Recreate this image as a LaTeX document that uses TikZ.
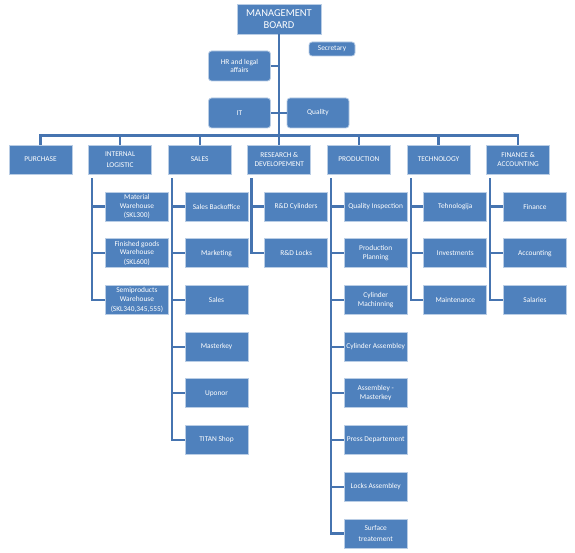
\documentclass[tikz,border=0pt]{standalone}
\usepackage{fontspec}
\setmainfont{Carlito}
\usetikzlibrary{calc}
\definecolor{boxblue}{HTML}{4F81BD}
\definecolor{boxrim}{HTML}{B9CDE5}
\definecolor{linkblue}{HTML}{4674B0}

\begin{document}
\begin{tikzpicture}[
  x=1pt, y=-1pt,
  box/.style={rectangle, draw=boxrim, line width=0.8pt, fill=boxblue, text=white,
    align=center, inner sep=1pt, minimum width=63pt, minimum height=29pt,
    font=\fontsize{7.4}{8.6}\selectfont},
  staff/.style={box, rounded corners=3pt, minimum width=62pt, minimum height=30pt},
  link/.style={draw=linkblue, line width=2.2pt}
]
\useasboundingbox (0,0) rectangle (575,553);

% board and staff
\node[box, minimum width=84pt, minimum height=30pt, font=\fontsize{10.5}{12}\selectfont] (board) at (279,19) {MANAGEMENT\\BOARD};
\node[staff, minimum width=46pt, minimum height=14pt] (secretary) at (332,49) {Secretary};
\node[staff] (hr) at (239.5,66) {HR and legal\\affairs};
\node[staff] (it) at (239.5,113) {IT};
\node[staff] (quality) at (318,113) {Quality};

% departments
\foreach \name/\txt [count=\i from 0] in {purchase/PURCHASE, logistic/INTERNAL\\[2pt]LOGISTIC, sales/SALES, research/RESEARCH \&\\DEVELOPEMENT, production/PRODUCTION, technology/TECHNOLOGY, finance/FINANCE \&\\ACCOUNTING}
  \node[box] (\name) at (40.5+79.6*\i,159.5) {\txt};

% units
\foreach \txt [count=\k from 0] in {Material\\Warehouse\\[1pt](SKL300), Finished goods\\Warehouse\\[1pt](SKL600), {Semiproducts\\Warehouse\\[1pt](SKL340,345,555)}}
  \node[box] (logistic-\k) at ($(logistic.center)+(16.8,47+46.7*\k)$) {\txt};
\foreach \txt [count=\k from 0] in {Sales Backoffice, Marketing, Sales, Masterkey, Uponor, TITAN Shop}
  \node[box] (sales-\k) at ($(sales.center)+(16.8,47+46.7*\k)$) {\txt};
\foreach \txt [count=\k from 0] in {R\&D Cylinders, R\&D Locks}
  \node[box] (research-\k) at ($(research.center)+(16.8,47+46.7*\k)$) {\txt};
\foreach \txt [count=\k from 0] in {Quality Inspection, Production\\Planning, Cylinder\\Machinning, Cylinder Assembley, Assembley -\\Masterkey, Press Departement, Locks Assembley, Surface\\[3pt]treatement}
  \node[box] (production-\k) at ($(production.center)+(16.8,47+46.7*\k)$) {\txt};
\foreach \txt [count=\k from 0] in {Tehnologija, Investments, Maintenance}
  \node[box] (technology-\k) at ($(technology.center)+(16.8,47+46.7*\k)$) {\txt};
\foreach \txt [count=\k from 0] in {Finance, Accounting, Salaries}
  \node[box] (finance-\k) at ($(finance.center)+(16.8,47+46.7*\k)$) {\txt};

% top connectors
\draw[link] (board.south) -- ([yshift=9pt]board.south |- purchase.north);
\draw[link] (hr.east) -- (hr.east -| board.south);
\draw[link] (it.east) -- (it.east -| board.south);
\draw[link] (quality.west) -- (quality.west -| board.south);
\draw[link] (purchase.north) -- ([yshift=9pt]purchase.north) -- ([yshift=9pt]finance.north) -- (finance.north);
\foreach \name in {logistic,sales,research,production,technology}
  \draw[link] (\name.north) -- ([yshift=9pt]\name.north);

% unit connectors
\foreach \name/\last in {logistic/2, sales/5, research/1, production/7, technology/2, finance/2}{
  \draw[link] ([xshift=4pt,yshift=-4pt]\name.south west) |- (\name-\last.west);
  \foreach \k in {0,...,\last}
    \draw[link] (\name-\k.west) -- ++(-12.8,0);
}
\end{tikzpicture}
\end{document}
